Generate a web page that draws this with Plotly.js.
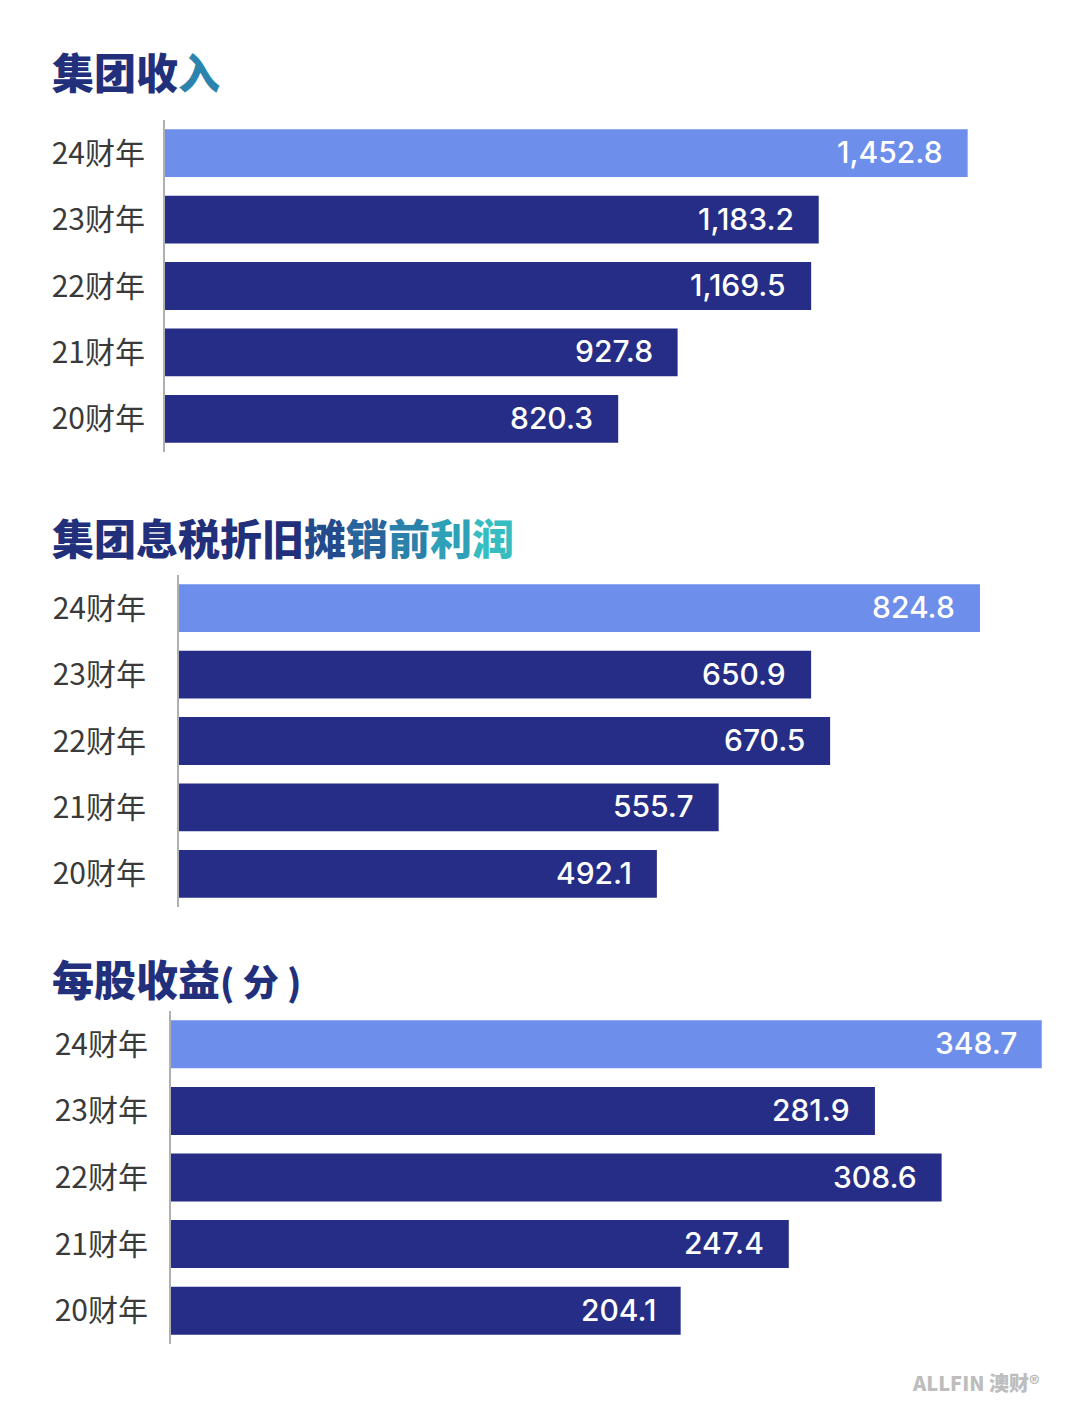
<!DOCTYPE html>
<html>
<head>
<meta charset="utf-8">
<script src="https://cdn.plot.ly/plotly-3.0.1.min.js"></script>
<style>html,body{margin:0;padding:0;background:#fff;}#chart{width:1080px;height:1423px;}</style>
</head>
<body>
<div id="chart"></div>
<script>
// Data
const years = ["24财年", "23财年", "22财年", "21财年", "20财年"];
const revenue = [1452.8, 1183.2, 1169.5, 927.8, 820.3];
const ebitda = [824.8, 650.9, 670.5, 555.7, 492.1];
const eps = [348.7, 281.9, 308.6, 247.4, 204.1];
const panelTitles = [
  '<span style="color:#22307c">集团收</span><span style="color:#2b84ad">入</span>',
  '<span style="color:#22307c">集团息税折旧</span><span style="color:#244a8c">摊</span><span style="color:#27659c">销</span><span style="color:#2a82ab">前</span><span style="color:#2ea1b8">利</span><span style="color:#35bdc1">润</span>',
  '<span style="color:#22307c">每股收益</span><span style="color:#22307c;font-size:36px">( 分 )</span>'
];

const W = 1080, H = 1423;
const fx = p => p / W;
const fy = p => 1 - p / H;

const series = [revenue, ebitda, eps];
const fmts = [v => v.toLocaleString('en-US', {minimumFractionDigits:1, maximumFractionDigits:1}),
              v => v.toFixed(1), v => v.toFixed(1)];
// layout geometry (pixels)
const panels = [
  {x0: 165, x1: 1049, y0: 120, y1: 452, range: [0, 1600], standoff: 12, title: 71},
  {x0: 179, x1: 1053, y0: 575, y1: 907, range: [0, 900], standoff: 25, title: 537},
  {x0: 171, x1: 1045, y0: 1011, y1: 1344, range: [0, 350], standoff: 15, title: 977}
];
const darkColor = '#262d86', lightColor = '#6e8eeb';

const data = [];
const layout = {
  width: W, height: H,
  margin: {l: 0, r: 0, t: 0, b: 0},
  paper_bgcolor: '#ffffff', plot_bgcolor: 'rgba(0,0,0,0)',
  showlegend: false,
  annotations: []
};

panels.forEach((p, i) => {
  const n = i === 0 ? '' : String(i + 1);
  const vals = series[i];
  data.push({
    type: 'bar', orientation: 'h',
    x: vals, y: years,
    xaxis: 'x' + n, yaxis: 'y' + n,
    width: 0.72,
    marker: {color: years.map((_, k) => k === 0 ? lightColor : darkColor), line: {width: 0}},
    hoverinfo: 'none'
  });
  layout['xaxis' + n] = {
    domain: [fx(p.x0), fx(p.x1)], range: p.range, anchor: 'y' + n,
    showgrid: false, zeroline: false, showline: false, showticklabels: false, ticks: '', fixedrange: true
  };
  layout['yaxis' + n] = {
    domain: [fy(p.y1), fy(p.y0)], anchor: 'x' + n,
    type: 'category', categoryorder: 'array', categoryarray: years,
    autorange: 'reversed',
    showgrid: false, zeroline: false,
    showline: true, linecolor: '#b0b0b0', linewidth: 2,
    ticks: '', ticklabelstandoff: p.standoff,
    tickfont: {family: '"Noto Sans CJK SC", "Noto Sans", sans-serif', size: 30, color: '#3a3a3a'},
    fixedrange: true
  };
  vals.forEach((v, k) => {
    layout.annotations.push({
      xref: 'x' + n, yref: 'y' + n, x: v, y: years[k],
      text: fmts[i](v), showarrow: false, xanchor: 'right', yanchor: 'middle', xshift: -23, yshift: 1,
      font: {family: 'Inter, "Noto Sans", sans-serif', size: 30, color: '#ffffff', weight: 500}
    });
  });
  layout.annotations.push({
    xref: 'paper', yref: 'paper', x: fx(50), y: fy(p.title),
    text: panelTitles[i], showarrow: false, xanchor: 'left', yanchor: 'middle',
    font: {family: '"Noto Sans CJK SC", sans-serif', size: 42, weight: 900, color: '#22307c'}
  });
});

layout.annotations.push({
  xref: 'paper', yref: 'paper', x: fx(1042), y: fy(1382),
  text: 'ALLFIN 澳财®', showarrow: false, xanchor: 'right', yanchor: 'middle',
  font: {family: '"Noto Sans CJK SC", Inter, sans-serif', size: 20, weight: 900, color: '#bdbdbd'}
});

Plotly.newPlot('chart', data, layout, {displayModeBar: false, staticPlot: true});
</script>
</body>
</html>
